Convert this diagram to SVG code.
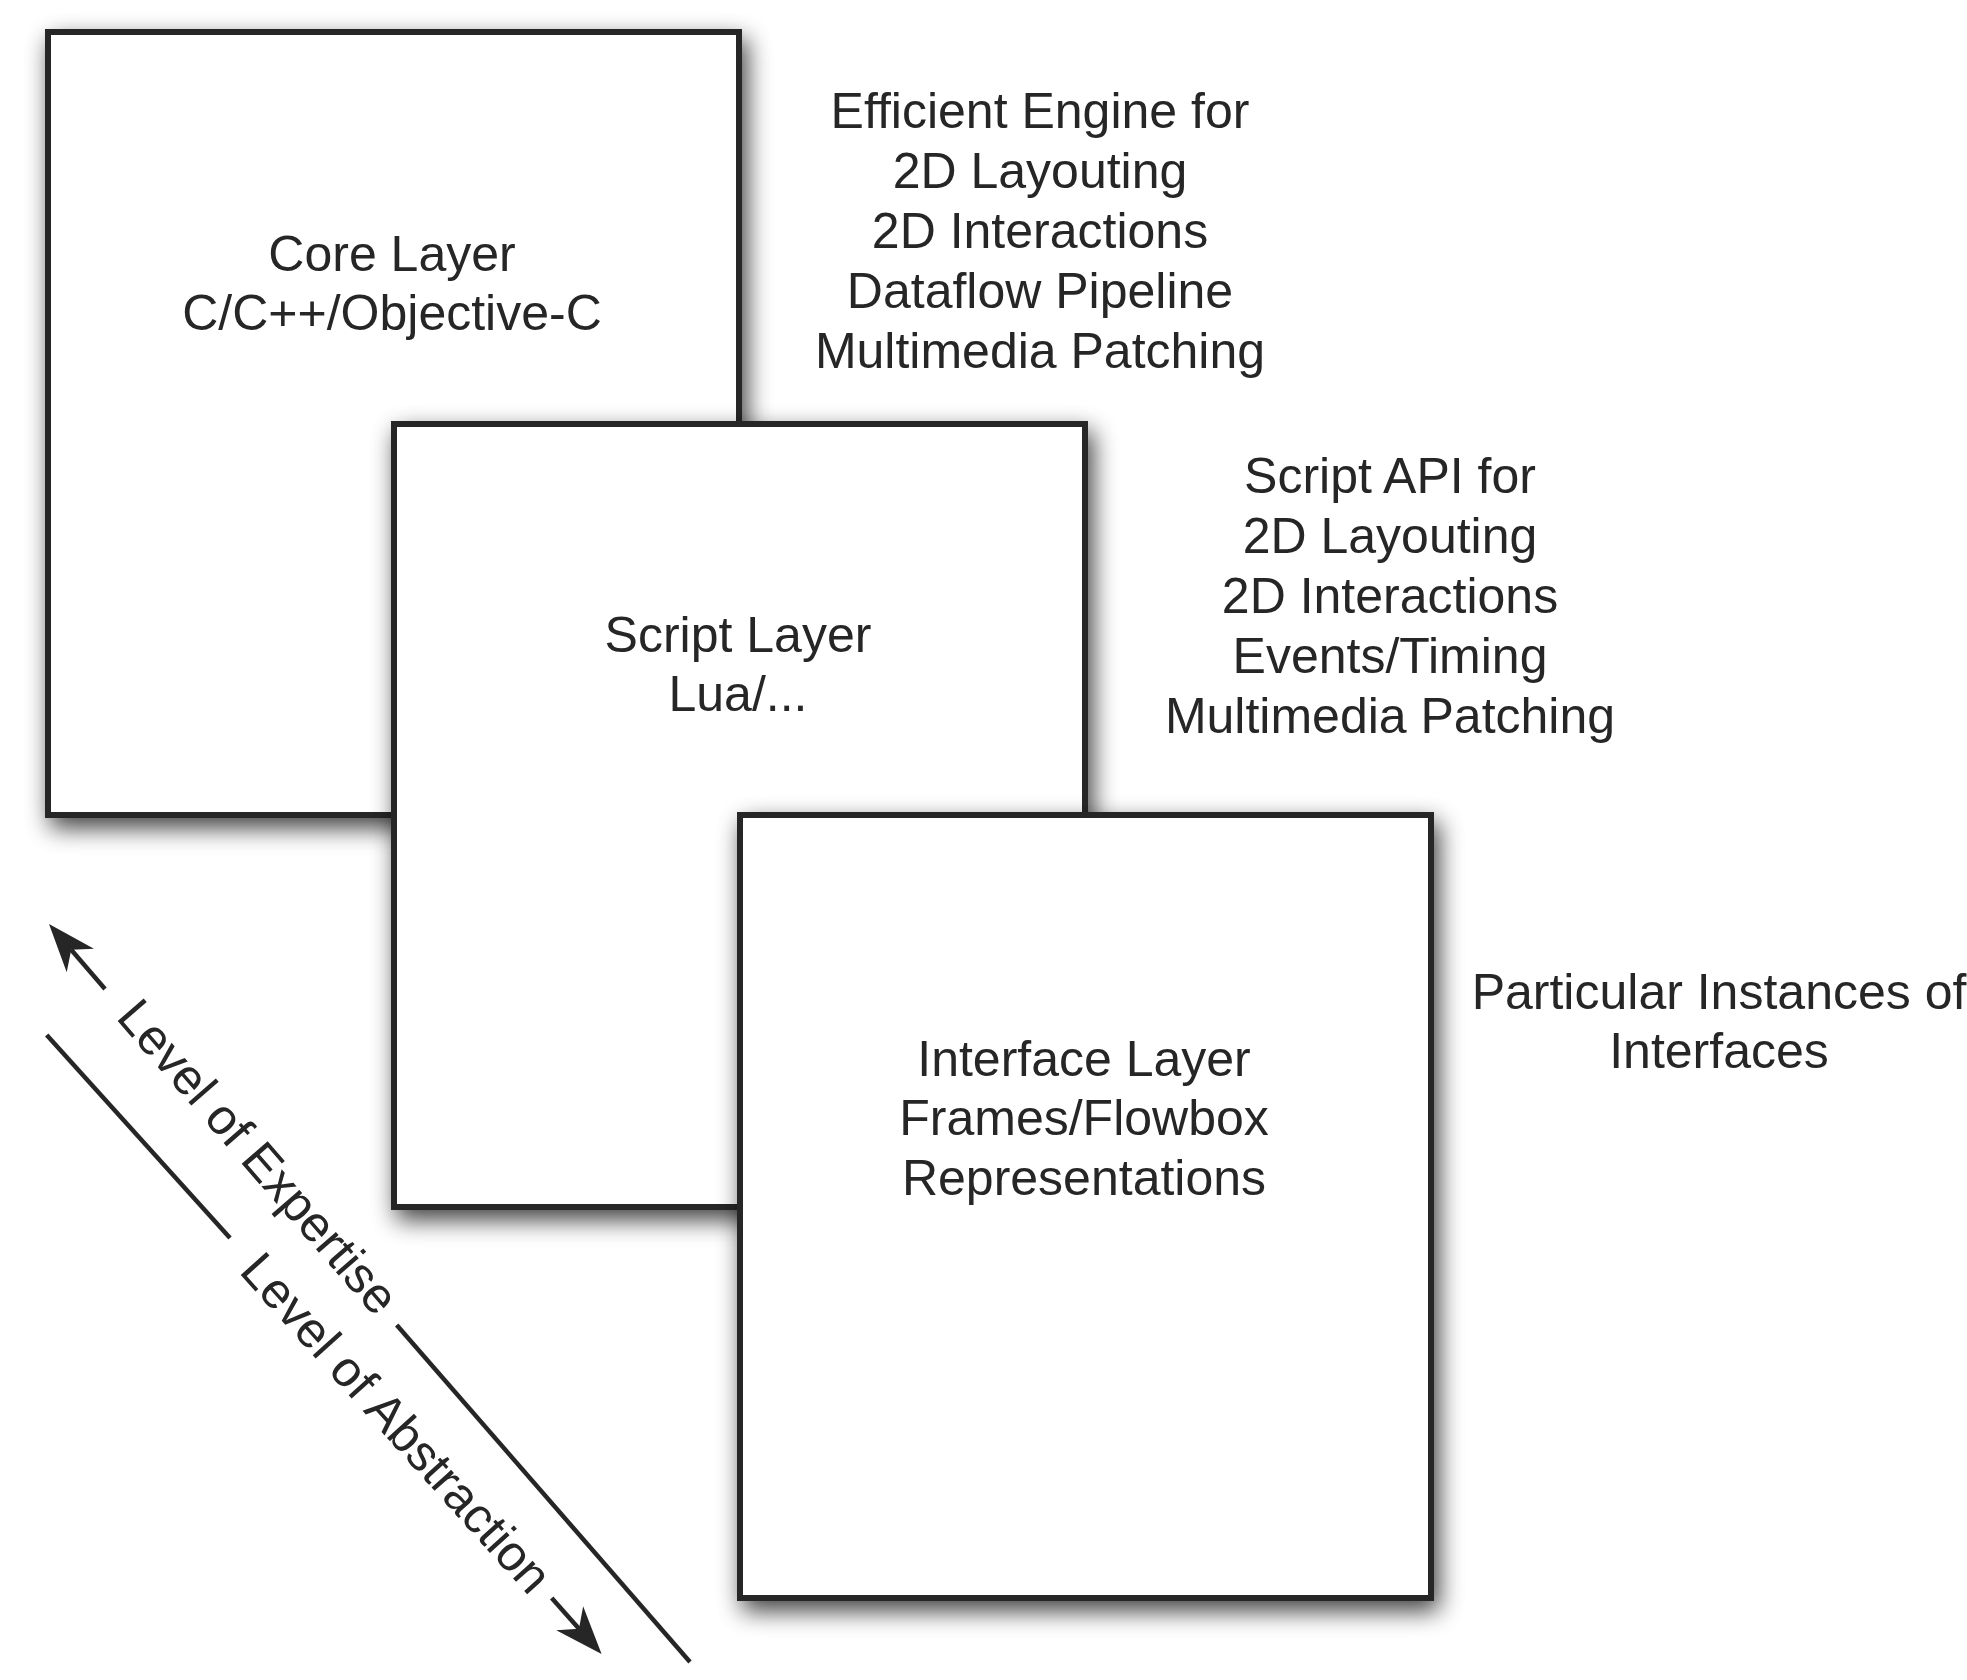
<svg xmlns="http://www.w3.org/2000/svg" width="1967" height="1680" viewBox="0 0 1967 1680">
<defs>
<filter id="shadow" x="-10%" y="-10%" width="125%" height="125%">
<feGaussianBlur in="SourceAlpha" stdDeviation="12"/>
<feOffset dx="5" dy="10" result="b"/>
<feComponentTransfer><feFuncA type="linear" slope="0.75"/></feComponentTransfer>
<feMerge><feMergeNode/><feMergeNode in="SourceGraphic"/></feMerge>
</filter>
<marker id="arrow" markerUnits="userSpaceOnUse" markerWidth="60" markerHeight="60" viewBox="-20 -25 60 50" refX="0" refY="0" orient="auto">
<path d="M34 0 L-14 -18 L0 0 L-14 18 Z" fill="#262626"/>
</marker>
</defs>
<style>
.box{fill:#ffffff;stroke:#262626;stroke-width:6}
.t{font-family:"Liberation Sans",Arial,sans-serif;font-size:50px;fill:#262626;text-anchor:middle}
.ts{font-family:"Liberation Sans",Arial,sans-serif;font-size:50px;fill:#262626}
.ln{stroke:#262626;stroke-width:4.5;fill:none}
</style>
<rect width="1967" height="1680" fill="#ffffff"/>
<g id="core-layer" filter="url(#shadow)">
<rect class="box" x="48" y="32" width="691" height="783"/>
</g>
<g id="core-layer-label">
<text class="t" x="392" y="271">Core Layer</text>
<text class="t" x="392" y="330">C/C++/Objective-C</text>
</g>
<g id="script-layer" filter="url(#shadow)">
<rect class="box" x="394" y="424" width="691" height="783"/>
</g>
<g id="script-layer-label">
<text class="t" x="738" y="652">Script Layer</text>
<text class="t" x="738" y="711">Lua/...</text>
</g>
<g id="interface-layer" filter="url(#shadow)">
<rect class="box" x="740" y="815" width="691" height="783"/>
</g>
<g id="interface-layer-label">
<text class="t" x="1084" y="1076">Interface Layer</text>
<text class="t" x="1084" y="1135">Frames/Flowbox</text>
<text class="t" x="1084" y="1195">Representations</text>
</g>
<g id="core-desc">
<text class="t" x="1040" y="128">Efficient Engine for</text>
<text class="t" x="1040" y="188">2D Layouting</text>
<text class="t" x="1040" y="248">2D Interactions</text>
<text class="t" x="1040" y="308">Dataflow Pipeline</text>
<text class="t" x="1040" y="368">Multimedia Patching</text>
</g>
<g id="script-desc">
<text class="t" x="1390" y="493">Script API for</text>
<text class="t" x="1390" y="553">2D Layouting</text>
<text class="t" x="1390" y="613">2D Interactions</text>
<text class="t" x="1390" y="673">Events/Timing</text>
<text class="t" x="1390" y="733">Multimedia Patching</text>
</g>
<g id="interface-desc">
<text class="t" x="1719" y="1009">Particular Instances of</text>
<text class="t" x="1719" y="1068">Interfaces</text>
</g>
<g id="connectors">
<line class="ln" x1="105" y1="989" x2="71.2" y2="949.8" marker-end="url(#arrow)"/>
<line class="ln" x1="396.7" y1="1325" x2="690" y2="1662"/>
<line class="ln" x1="46.7" y1="1035" x2="230" y2="1238"/>
<line class="ln" x1="551.7" y1="1598" x2="579" y2="1628.7" marker-end="url(#arrow)"/>
</g>
<g id="axis-labels">
<text class="ts" transform="translate(115,1018) rotate(49)">Level of Expertise</text>
<text class="ts" transform="translate(238,1272) rotate(48.1)">Level of Abstraction</text>
</g>
</svg>
